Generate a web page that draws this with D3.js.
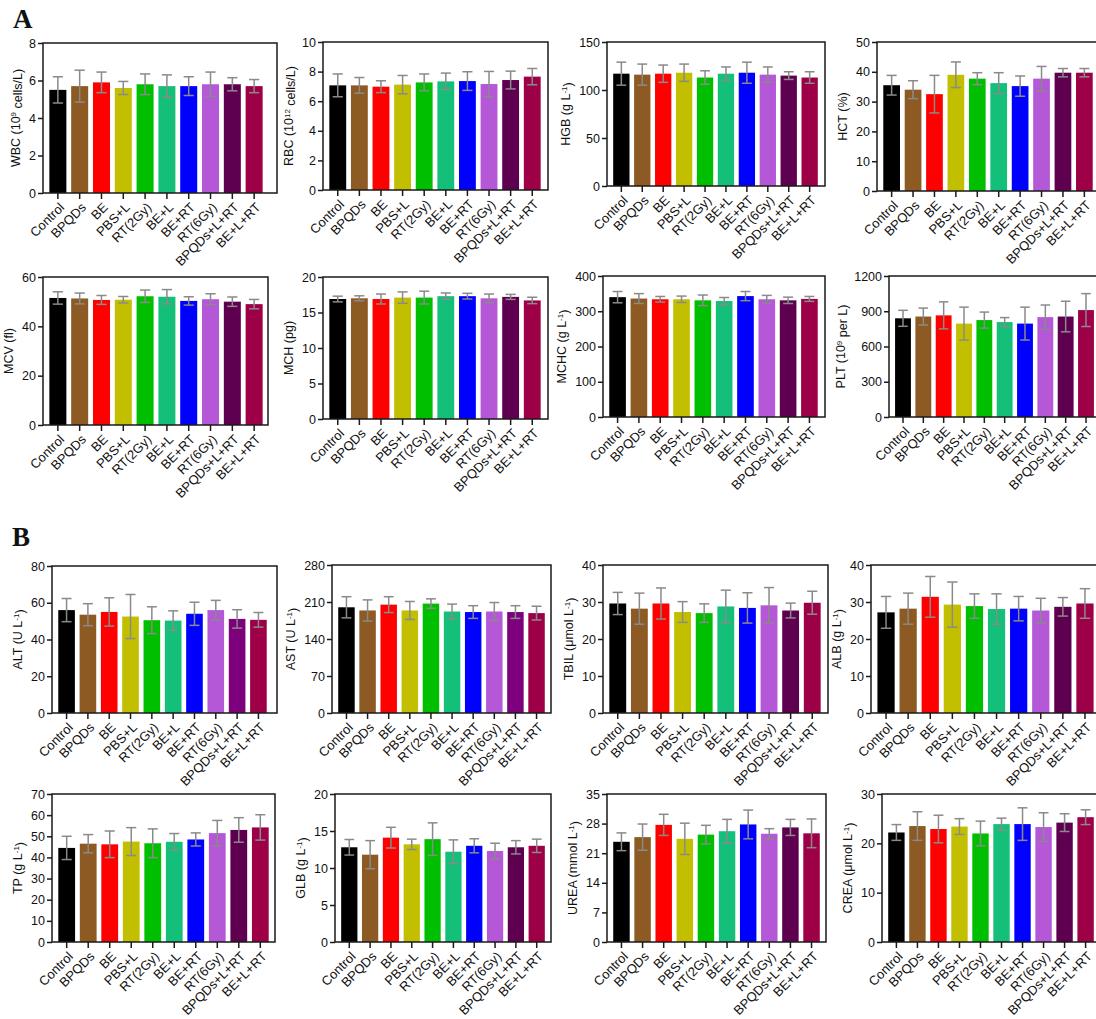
<!DOCTYPE html>
<html>
<head>
<meta charset="utf-8">
<script src="https://cdn.jsdelivr.net/npm/d3@7"></script>
<style>
  body { margin: 0; background: #fff; }
  text { font-family: "Liberation Sans", Arial, sans-serif; fill: #111; }
</style>
</head>
<body>
<div id="chart"></div>
<script>
// groups and bar colours
var groups = ["Control", "BPQDs", "BE", "PBS+L", "RT(2Gy)", "BE+L", "BE+RT", "RT(6Gy)", "BPQDs+L+RT", "BE+L+RT"];
var colors = ["#000000", "#8c5a22", "#ff0000", "#c2bf00", "#00bf00", "#14bf7a", "#0000ff", "#b558d8", "#5e004f", "#9e0048"];
var colorsPurple = ["#000000", "#8c5a22", "#ff0000", "#c2bf00", "#00bf00", "#14bf7a", "#0000ff", "#b558d8", "#7d007d", "#9e0048"];

// A: blood routine (mean, sd)
var wbc = [5.5, 5.7, 5.9, 5.6, 5.8, 5.7, 5.7, 5.8, 5.8, 5.7];
var wbcSd = [0.7, 0.85, 0.55, 0.35, 0.55, 0.6, 0.5, 0.65, 0.35, 0.35];
var rbc = [7.07, 7.07, 6.98, 7.12, 7.27, 7.34, 7.36, 7.16, 7.43, 7.66];
var rbcSd = [0.77, 0.53, 0.4, 0.62, 0.57, 0.56, 0.63, 0.85, 0.6, 0.55];
var hgb = [117, 116, 117, 118, 113, 117, 118, 116, 115, 113];
var hgbSd = [12, 11, 9, 9, 7, 7, 11, 8, 4, 6];
var hct = [35.5, 34, 32.5, 39, 37.7, 36.2, 35.2, 37.7, 39.7, 39.7];
var hctSd = [3.3, 3, 6.3, 4.3, 2, 3.5, 3.4, 4.1, 1.4, 1.4];
var mcv = [51.5, 51.3, 50.7, 50.8, 52.2, 52, 50.3, 51, 50, 49];
var mcvSd = [2.5, 2.2, 1.8, 1.3, 2.5, 2.9, 1.7, 2.2, 1.9, 1.9];
var mch = [16.9, 17, 16.9, 17.1, 17.1, 17.3, 17.3, 17, 17.2, 16.7];
var mchSd = [0.4, 0.35, 0.7, 0.8, 0.9, 0.45, 0.4, 0.6, 0.35, 0.45];
var mchc = [340, 336, 334, 334, 331, 329, 343, 334, 331, 335];
var mchcSd = [16, 14, 8, 9, 15, 10, 13, 11, 9, 7];
var plt = [840, 855, 865, 795, 825, 808, 795, 850, 855, 910];
var pltSd = [68, 72, 115, 140, 68, 38, 140, 103, 130, 140];

// B: blood biochemistry (mean, sd)
var alt = [56, 53.5, 55, 52.5, 50.5, 50.3, 54, 56, 51.2, 50.7];
var altSd = [6.3, 6, 7.7, 12, 7.3, 5.3, 6.3, 5.3, 5, 4];
var ast = [200, 194, 205, 194, 207, 192, 191, 192, 191, 189];
var astSd = [20, 20, 15, 17, 9, 14, 12, 17, 12, 13];
var tbil = [29.6, 28.2, 29.6, 27.3, 27, 28.8, 28.4, 29.1, 27.7, 29.8];
var tbilSd = [3, 4.2, 4.2, 2.8, 2.5, 4.4, 4.1, 4.8, 2, 3.1];
var alb = [27.2, 28.2, 31.4, 29.3, 28.9, 28.1, 28.2, 27.7, 28.7, 29.6];
var albSd = [4.3, 4.2, 5.5, 6.1, 3.3, 4.1, 3.3, 3.3, 2.5, 4];
var tp = [44.5, 46.5, 46.2, 47.5, 46.7, 47.4, 48.5, 51.5, 53, 54.2];
var tpSd = [5.5, 4.3, 6.3, 6.6, 6.8, 3.9, 3.1, 6, 5.8, 6];
var glb = [12.8, 11.8, 14.1, 13.2, 13.9, 12.2, 13, 12.3, 12.8, 13];
var glbSd = [1.05, 1.9, 1.4, 0.7, 2.2, 1.6, 0.95, 1.05, 0.9, 0.9];
var urea = [23.7, 24.8, 27.7, 24.4, 25.4, 26.2, 27.8, 25.6, 27.1, 25.7];
var ureaSd = [2.1, 3.1, 2.5, 3.7, 2.2, 2.8, 3.4, 1.2, 1.9, 3.4];
var crea = [22.2, 23.5, 22.9, 23.4, 22, 23.9, 23.9, 23.3, 24.2, 25.3];
var creaSd = [1.6, 2.9, 2.8, 1.6, 2.5, 1.2, 3.3, 2.9, 1.8, 1.5];

// y tick values
var wbcTicks = [0, 2, 4, 6, 8];
var rbcTicks = [0, 2, 4, 6, 8, 10];
var hgbTicks = [0, 50, 100, 150];
var hctTicks = [0, 10, 20, 30, 40, 50];
var mcvTicks = [0, 20, 40, 60];
var mchTicks = [0, 5, 10, 15, 20];
var mchcTicks = [0, 100, 200, 300, 400];
var pltTicks = [0, 300, 600, 900, 1200];
var altTicks = [0, 20, 40, 60, 80];
var astTicks = [0, 70, 140, 210, 280];
var tbilTicks = [0, 10, 20, 30, 40];
var albTicks = [0, 10, 20, 30, 40];
var tpTicks = [0, 10, 20, 30, 40, 50, 60, 70];
var glbTicks = [0, 5, 10, 15, 20];
var ureaTicks = [0, 7, 14, 21, 28, 35];
var creaTicks = [0, 10, 20, 30];

// y titles: [normal, superscript, normal, ...]
var panels = [
    {mean: wbc, sd: wbcSd, ticks: wbcTicks, title: ["WBC (10", "9", " cells/L)"], box: [43, 263, 277, 43, 193]},
    {mean: rbc, sd: rbcSd, ticks: rbcTicks, title: ["RBC (10", "12", " cells/L)"], box: [323, 541, 548, 42, 190]},
    {mean: hgb, sd: hgbSd, ticks: hgbTicks, title: ["HGB (g L", "-1", ")"], box: [607, 818, 825, 42, 186]},
    {mean: hct, sd: hctSd, ticks: hctTicks, title: ["HCT (%)"], box: [877, 1093, 1110, 42, 191]},
    {mean: mcv, sd: mcvSd, ticks: mcvTicks, title: ["MCV (fl)"], box: [43, 263, 268, 277, 425]},
    {mean: mch, sd: mchSd, ticks: mchTicks, title: ["MCH (pg)"], box: [323, 541, 548, 277, 419]},
    {mean: mchc, sd: mchcSd, ticks: mchcTicks, title: ["MCHC (g L", "-1", ")"], box: [603, 818, 825, 276, 417]},
    {mean: plt, sd: pltSd, ticks: pltTicks, title: ["PLT (10", "9", " per L)"], box: [889, 1094, 1115, 276, 417]},
    {mean: alt, sd: altSd, ticks: altTicks, title: ["ALT (U L", "-1", ")"], box: [52, 267, 277, 566, 713], colors: colorsPurple},
    {mean: ast, sd: astSd, ticks: astTicks, title: ["AST (U L", "-1", ")"], box: [332, 545, 551, 565, 713], colors: colorsPurple},
    {mean: tbil, sd: tbilSd, ticks: tbilTicks, title: ["TBIL (\u03bcmol L", "-1", ")"], box: [603, 821, 828, 565, 713]},
    {mean: alb, sd: albSd, ticks: albTicks, title: ["ALB  (g L", "-1", ")"], box: [871, 1094, 1110, 565, 713]},
    {mean: tp, sd: tpSd, ticks: tpTicks, title: ["TP (g L", "-1", ")"], box: [52, 269, 275, 794, 942]},
    {mean: glb, sd: glbSd, ticks: glbTicks, title: ["GLB (g L", "-1", ")"], box: [335, 545, 551, 794, 942]},
    {mean: urea, sd: ureaSd, ticks: ureaTicks, title: ["UREA (mmol L", "-1", ")"], box: [607, 820, 826, 794, 942]},
    {mean: crea, sd: creaSd, ticks: creaTicks, title: ["CREA (\u03bcmol L", "-1", ")"], box: [882, 1094, 1110, 794, 942]}
];

var svg = d3.select("#chart")
    .append("svg")
    .attr("width", 1096)
    .attr("height", 1019);

svg.append("rect").attr("width", 1096).attr("height", 1019).attr("fill", "#fff");

svg.append("text").attr("x", 13).attr("y", 28)
    .style("font-family", "'Liberation Serif', 'Times New Roman', serif")
    .style("font-weight", "bold").style("font-size", "27px").text("A");
svg.append("text").attr("x", 12).attr("y", 546)
    .style("font-family", "'Liberation Serif', 'Times New Roman', serif")
    .style("font-weight", "bold").style("font-size", "27px").text("B");

panels.forEach(drawPanel);

function drawPanel(p) {
    var x0 = p.box[0], xe = p.box[1], fr = p.box[2], y0 = p.box[3], y1 = p.box[4];
    var cols = p.colors || colors;

    var y = d3.scaleLinear()
        .domain([0, d3.max(p.ticks)])
        .range([y1, y0]);

    var x = d3.scaleBand()
        .domain(groups)
        .range([x0 + 2, xe + 4])
        .paddingInner(0.22)
        .paddingOuter(0.2);

    var g = svg.append("g");

    // bars
    g.selectAll("rect.bar")
        .data(p.mean)
        .enter().append("rect")
        .attr("class", "bar")
        .attr("x", function (d, i) { return x(groups[i]); })
        .attr("width", x.bandwidth())
        .attr("y", function (d) { return y(d); })
        .attr("height", function (d) { return y(0) - y(d); })
        .attr("fill", function (d, i) { return cols[i]; });

    // error bars
    var capW = Math.min(11, x.bandwidth() * 0.6);
    var eb = g.selectAll("g.err")
        .data(p.mean)
        .enter().append("g")
        .attr("class", "err")
        .attr("stroke", "#8a8a8a")
        .attr("stroke-width", 1.5);
    eb.append("line")
        .attr("x1", function (d, i) { return x(groups[i]) + x.bandwidth() / 2; })
        .attr("x2", function (d, i) { return x(groups[i]) + x.bandwidth() / 2; })
        .attr("y1", function (d, i) { return y(d + p.sd[i]); })
        .attr("y2", function (d, i) { return y(d - p.sd[i]); });
    [1, -1].forEach(function (s) {
        eb.append("line")
            .attr("x1", function (d, i) { return x(groups[i]) + x.bandwidth() / 2 - capW / 2; })
            .attr("x2", function (d, i) { return x(groups[i]) + x.bandwidth() / 2 + capW / 2; })
            .attr("y1", function (d, i) { return y(d + s * p.sd[i]); })
            .attr("y2", function (d, i) { return y(d + s * p.sd[i]); });
    });

    // frame
    g.append("path")
        .attr("d", "M" + x0 + "," + y1 + "V" + y0 + "H" + fr + "V" + y1 + "Z")
        .attr("fill", "none")
        .attr("stroke", "#1a1a1a")
        .attr("stroke-width", 1.5);

    // y axis
    var ya = g.append("g")
        .attr("transform", "translate(" + x0 + ",0)")
        .call(d3.axisLeft(y).tickValues(p.ticks).tickSize(5).tickPadding(2).tickFormat(d3.format("d")));
    ya.select(".domain").remove();
    ya.selectAll("line").attr("stroke", "#1a1a1a").attr("stroke-width", 1.5);
    ya.selectAll("text").style("font-size", "12.5px").attr("fill", "#111");

    // x axis
    var xa = g.append("g")
        .attr("transform", "translate(0," + y1 + ")")
        .call(d3.axisBottom(x).tickSize(6));
    xa.select(".domain").remove();
    xa.selectAll("line").attr("stroke", "#1a1a1a").attr("stroke-width", 1.5);
    xa.selectAll("text")
        .attr("x", 0).attr("y", 0).attr("dy", "0.35em")
        .attr("text-anchor", "end")
        .attr("transform", "translate(4,12) rotate(-45)")
        .style("font-size", "13px")
        .attr("fill", "#111");

    // y title placed left of the widest tick label
    var maxW = 0;
    ya.selectAll("text").each(function () { maxW = Math.max(maxW, this.getComputedTextLength()); });
    var tx = x0 - 7 - maxW - 9;
    var t = g.append("text")
        .attr("transform", "translate(" + tx + "," + ((y0 + y1) / 2) + ") rotate(-90)")
        .attr("text-anchor", "middle")
        .style("font-size", "12.5px");
    p.title.forEach(function (s, i) {
        var sup = i % 2 === 1;
        var ts = t.append("tspan").text(s);
        if (sup) ts.attr("dy", "-0.45em").style("font-size", "8px");
        else if (i > 0) ts.attr("dy", "0.45em");
    });
}
</script>
</body>
</html>
